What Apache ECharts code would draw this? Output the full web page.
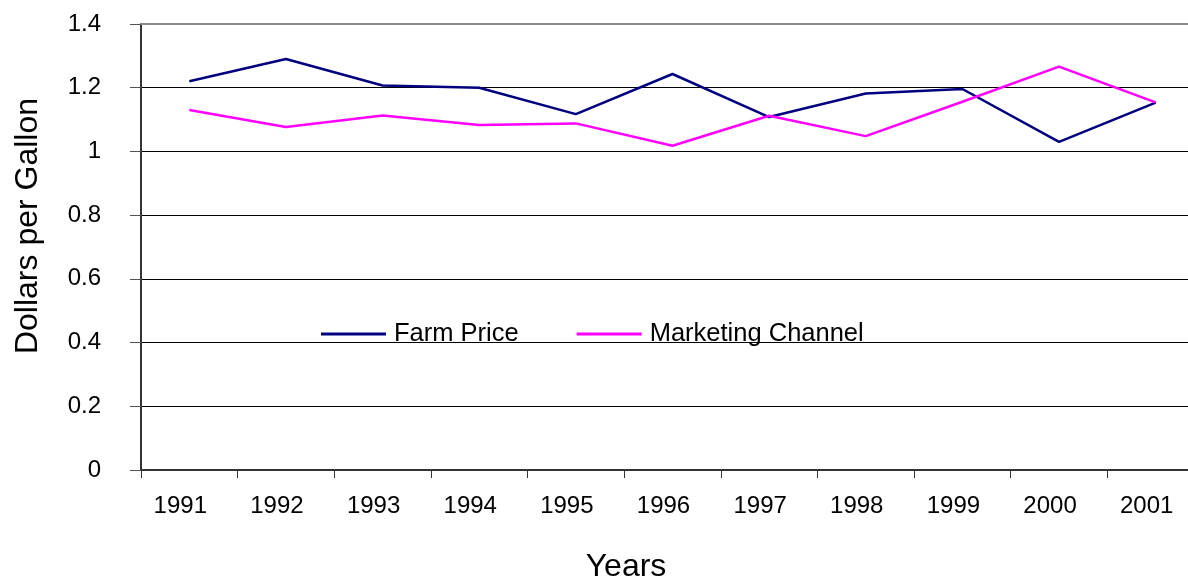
<!DOCTYPE html>
<html>
<head>
<meta charset="utf-8">
<script src="https://cdn.jsdelivr.net/npm/echarts@6/dist/echarts.min.js"></script>
<style>
  html, body { margin: 0; padding: 0; background: #fff; }
  #chart { width: 1188px; height: 579px; }
</style>
</head>
<body>
<div id="chart"></div>
<script>
// values
const years = ['1991', '1992', '1993', '1994', '1995', '1996', '1997', '1998', '1999', '2000', '2001']
const farmPrice = [1.22, 1.29, 1.207, 1.2, 1.117, 1.243, 1.108, 1.182, 1.196, 1.03, 1.153]
const marketingChannel = [1.13, 1.077, 1.113, 1.083, 1.088, 1.018, 1.112, 1.048, 1.156, 1.266, 1.154]
const yMin = 0
const yMax = 1.4
const yStep = 0.2

const font = "'Liberation Sans', Arial, sans-serif"
const chart = echarts.init(document.getElementById('chart'))

chart.setOption({
  animation: false,
  backgroundColor: '#fff',
  textStyle: { fontFamily: font },
  grid: {
    left: 141,
    top: 24,
    width: 1063,
    height: 446,
    outerBoundsMode: 'none'
  },
  legend: {
    left: 321,
    top: 321,
    padding: 0,
    icon: 'rect',
    itemWidth: 65,
    itemHeight: 3,
    itemGap: 58,
    selectedMode: false,
    textStyle: { fontFamily: font, fontSize: 25.5, color: '#000', padding: [0, 0, 0, 3] },
    data: ['Farm Price', 'Marketing Channel']
  },
  graphic: [
    {
      type: 'text',
      x: 626,
      y: 567,
      style: { text: 'Years', font: '32px ' + font, fill: '#000', align: 'center', verticalAlign: 'middle' }
    },
    {
      type: 'text',
      x: 28,
      y: 226,
      rotation: Math.PI / 2,
      style: { text: 'Dollars per Gallon', font: '32px ' + font, fill: '#000', align: 'center', verticalAlign: 'middle' }
    }
  ],
  xAxis: [
    {
      type: 'category',
      data: years,
      boundaryGap: true,
      axisLine: { lineStyle: { color: '#333', width: 2 } },
      axisTick: { show: true, length: 8, lineStyle: { color: '#333' } },
      // labels sit a little left of the category centre in the original
      axisLabel: { fontSize: 24, color: '#000', margin: 24, fontFamily: font, padding: [0, 18, 0, 0] }
    },
    {
      type: 'category',
      data: years,
      position: 'top',
      axisLine: { lineStyle: { color: '#8c8c8c', width: 2 } },
      axisTick: { show: false },
      axisLabel: { show: false }
    }
  ],
  yAxis: {
    type: 'value',
    min: yMin,
    max: yMax,
    interval: yStep,
    axisLine: { show: true, lineStyle: { color: '#333', width: 2 } },
    axisTick: { show: true, length: 11, lineStyle: { color: '#555' } },
    axisLabel: { fontSize: 24, color: '#000', margin: 40, fontFamily: font },
    splitLine: { lineStyle: { color: '#000', width: 1 } }
  },
  series: [
    {
      name: 'Farm Price',
      type: 'line',
      data: farmPrice,
      symbol: 'none',
      lineStyle: { color: '#000080', width: 2.5 },
      itemStyle: { color: '#000080' }
    },
    {
      name: 'Marketing Channel',
      type: 'line',
      data: marketingChannel,
      symbol: 'none',
      lineStyle: { color: '#ff00ff', width: 2.5 },
      itemStyle: { color: '#ff00ff' }
    }
  ]
})

window.onresize = function () {
  chart.resize()
}
</script>
</body>
</html>
